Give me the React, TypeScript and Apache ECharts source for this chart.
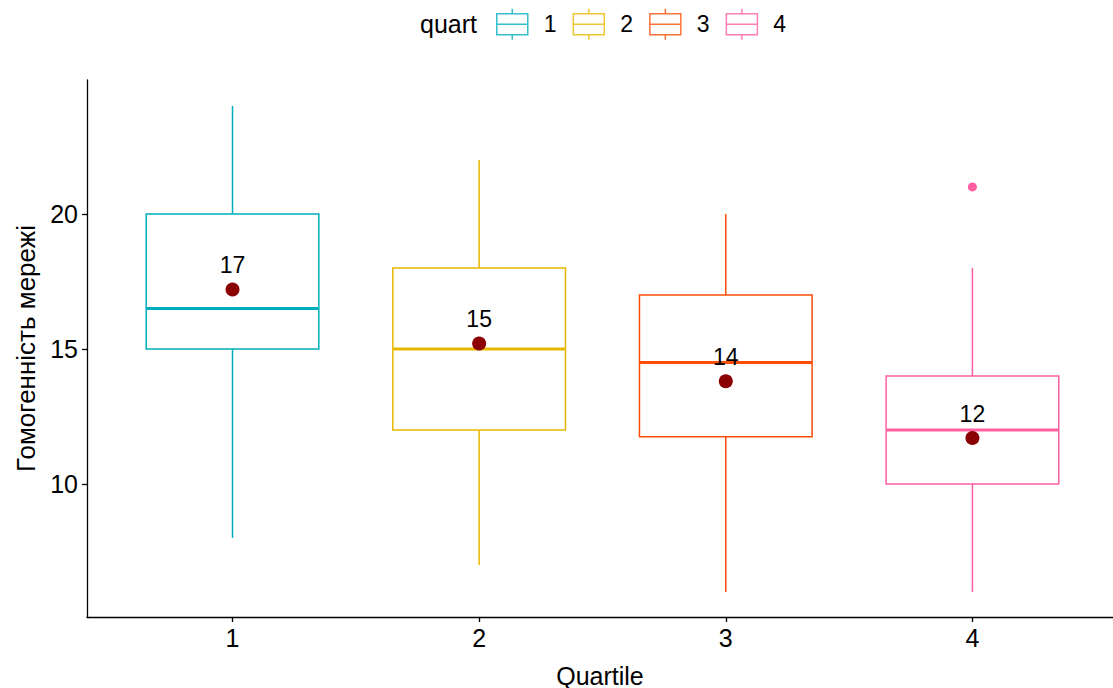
import React, { useEffect, useRef } from "react";
import * as echarts from "echarts";

const categories = ["1", "2", "3", "4"];
const lowWhisker = [8, 7, 6, 6];
const q1 = [15, 12, 11.75, 10];
const medians = [16.5, 15, 14.5, 12];
const q3 = [20, 18, 17, 14];
const highWhisker = [24, 22, 20, 18];
const means = [17.2, 15.2, 13.8, 11.7];
const meanLabels = ["17", "15", "14", "12"];
const outliers: [string, number][] = [["4", 21]];
const colors = ["#00AFBB", "#E7B800", "#FC4E07", "#FF5FA2"];
const yTicks = [10, 15, 20];
const xTicks = [1, 2, 3, 4];

const FONT = "Liberation Sans, Arial, sans-serif";
const ICON =
  "path://M0,5 L31,5 L31,26 L0,26 Z M0,15.5 L31,15.5 M15.5,0 L15.5,5 M15.5,26 L15.5,31";

export default function App() {
  const ref = useRef<HTMLDivElement>(null);
  useEffect(() => {
    document.body.style.margin = "0";
    const chart = echarts.init(ref.current!, null, { renderer: "svg" });
    const boxData = categories.map((c, i) => [
      i + 1,
      lowWhisker[i],
      q1[i],
      medians[i],
      q3[i],
      highWhisker[i],
      i,
    ]);
    chart.setOption({
      animation: false,
      backgroundColor: "#ffffff",
      textStyle: { fontFamily: FONT },
      title: {
        text: "quart",
        left: 415,
        top: 6,
        textStyle: { fontFamily: FONT, fontSize: 25, fontWeight: "normal", color: "#000" },
      },
      legend: {
        left: 491,
        top: 3,
        itemWidth: 31,
        itemHeight: 31,
        itemGap: 16,
        textStyle: { fontFamily: FONT, fontSize: 23, color: "#000", padding: [0, 0, 0, 11] },
        data: categories.map((c, i) => ({
          name: c,
          icon: ICON,
          itemStyle: { color: "rgba(0,0,0,0)", borderColor: colors[i], borderWidth: 1.5 },
        })),
      },
      grid: { left: 87, right: 0, top: 80, bottom: 71, outerBoundsMode: "none", containLabel: false },
      xAxis: {
        type: "value",
        min: 0.41,
        max: 4.57,
        name: "Quartile",
        nameLocation: "middle",
        nameGap: 46,
        nameTextStyle: { fontFamily: FONT, fontSize: 25, color: "#000" },
        splitLine: { show: false },
        axisLine: { lineStyle: { color: "#000", width: 1.3 } },
        axisTick: { customValues: xTicks, length: 5, lineStyle: { color: "#000", width: 1.3 } },
        axisLabel: {
          customValues: xTicks,
          formatter: (v: number) => categories[Math.round(v) - 1] ?? "",
          fontFamily: FONT,
          fontSize: 25,
          color: "#000",
          margin: 8,
        },
      },
      yAxis: {
        type: "value",
        min: 5.07,
        max: 24.96,
        name: "Гомогенність мережі",
        nameLocation: "middle",
        nameGap: 46,
        nameTextStyle: { fontFamily: FONT, fontSize: 26, color: "#000" },
        splitLine: { show: false },
        axisLine: { show: true, lineStyle: { color: "#000", width: 1.3 } },
        axisTick: { show: true, customValues: yTicks, length: 5, lineStyle: { color: "#000", width: 1.3 } },
        axisLabel: {
          customValues: yTicks,
          fontFamily: FONT,
          fontSize: 25,
          color: "#000",
          margin: 9,
        },
      },
      series: [
        ...categories.map((c, i) => ({
          name: c,
          type: "scatter",
          data: [],
          itemStyle: { color: colors[i] },
        })),
        {
          type: "custom",
          encode: { x: 0, y: [1, 2, 3, 4, 5] },
          data: boxData,
          renderItem: (params: any, api: any) => {
            const x = api.value(0);
            const idx = api.value(6);
            const col = colors[idx];
            const half = api.size([0.7, 0])[0] / 2;
            const pLow = api.coord([x, api.value(1)]);
            const pQ1 = api.coord([x, api.value(2)]);
            const pMed = api.coord([x, api.value(3)]);
            const pQ3 = api.coord([x, api.value(4)]);
            const pHigh = api.coord([x, api.value(5)]);
            const cx = pQ1[0];
            return {
              type: "group",
              children: [
                {
                  type: "line",
                  shape: { x1: cx, y1: pQ3[1], x2: cx, y2: pHigh[1] },
                  style: { stroke: col, lineWidth: 1.5 },
                },
                {
                  type: "line",
                  shape: { x1: cx, y1: pQ1[1], x2: cx, y2: pLow[1] },
                  style: { stroke: col, lineWidth: 1.5 },
                },
                {
                  type: "rect",
                  shape: { x: cx - half, y: pQ3[1], width: half * 2, height: pQ1[1] - pQ3[1] },
                  style: { fill: "none", stroke: col, lineWidth: 1.5 },
                },
                {
                  type: "line",
                  shape: { x1: cx - half, y1: pMed[1], x2: cx + half, y2: pMed[1] },
                  style: { stroke: col, lineWidth: 3 },
                },
              ],
            };
          },
          z: 2,
        },
        {
          type: "scatter",
          data: outliers.map(([c, v]) => [categories.indexOf(c) + 1, v]),
          symbolSize: 9,
          itemStyle: { color: colors[3], opacity: 1 },
          z: 3,
        },
        {
          type: "scatter",
          data: means.map((m, i) => [i + 1, m]),
          symbolSize: 14,
          itemStyle: { color: "#8B0000", opacity: 1 },
          label: {
            show: true,
            position: "top",
            distance: 6,
            formatter: (p: any) => meanLabels[p.dataIndex],
            fontFamily: FONT,
            fontSize: 23,
            color: "#000",
          },
          z: 4,
        },
      ],
    });
    return () => chart.dispose();
  }, []);
  return <div ref={ref} style={{ width: 1113, height: 688 }} />;
}
